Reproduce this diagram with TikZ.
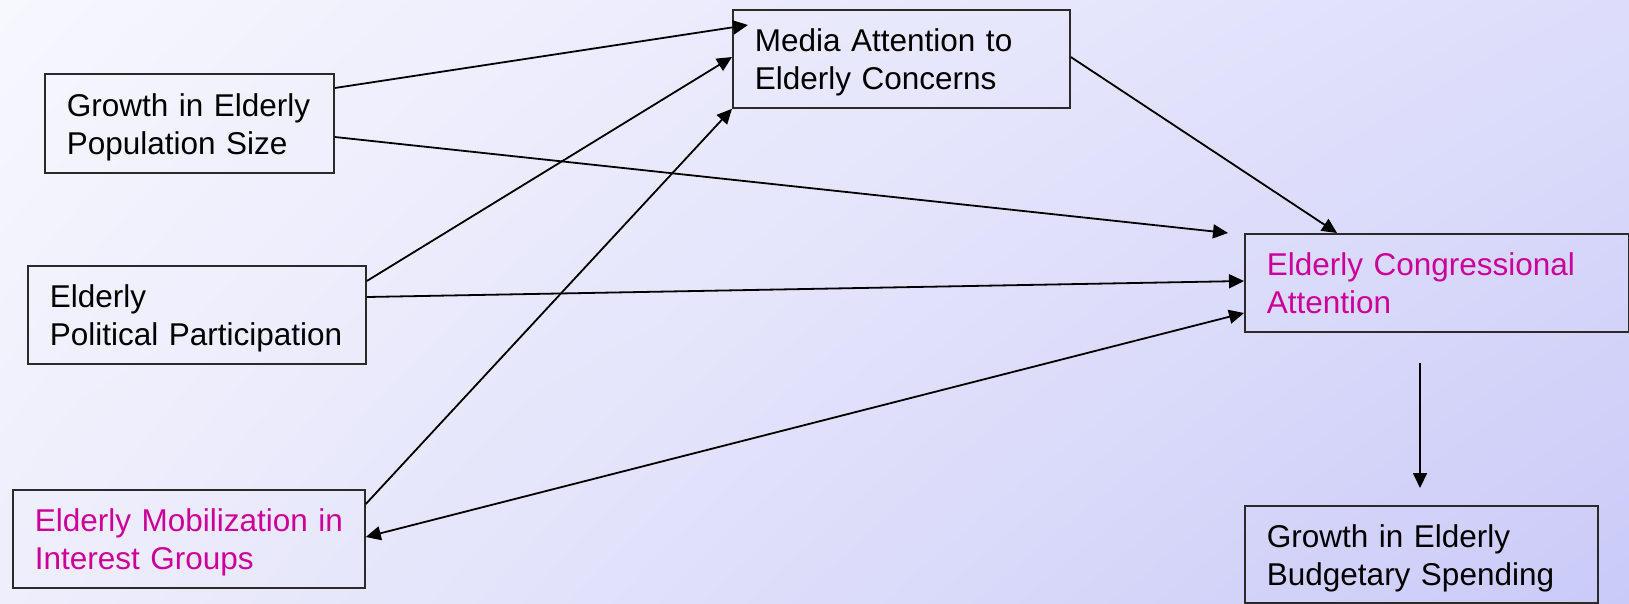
\documentclass[tikz,border=0pt]{standalone}
\usepackage{fontspec}
\setmainfont{Liberation Sans}
\usetikzlibrary{arrows.meta,calc,shadings}
\definecolor{bgUL}{HTML}{F7F7FE}
\definecolor{bgUR}{HTML}{DDDDFB}
\definecolor{bgLL}{HTML}{EEEEFC}
\definecolor{bgLR}{HTML}{CACAF8}
\definecolor{framegray}{HTML}{2A2A2A}
\definecolor{keyterm}{HTML}{CC0099}
\begin{document}
\begin{tikzpicture}[x=1pt,y=-1pt,
  factor/.style={draw=framegray, line width=1.8pt, anchor=north west,
    align=left, inner xsep=22pt, inner ysep=0pt,
    font=\fontsize{31.5}{38}\selectfont,
    text height=24pt, text depth=38pt},
  link/.style={line width=1.8pt, -{Triangle[length=15pt,width=14pt]}},
  duallink/.style={line width=1.8pt, {Triangle[length=15pt,width=14pt]}-{Triangle[length=15pt,width=14pt]}}]
  % background wash
  \shade[upper left=bgUL, upper right=bgUR, lower left=bgLL, lower right=bgLR]
    (0,0) rectangle (1629,603);
  \useasboundingbox (0,0) rectangle (1629,603);

  % factors (lines kept in boxes so they never rewrap)
  \node[factor, minimum width=289pt, minimum height=99pt, text width=245pt]
    (pop) at (44,73) {\mbox{Growth in Elderly}\\\mbox{Population Size}};
  \node[factor, minimum width=337pt, minimum height=98pt, text width=293pt]
    (media) at (732,9) {\mbox{Media Attention to}\\\mbox{Elderly Concerns}};
  \node[factor, minimum width=338pt, minimum height=98pt, text width=294pt]
    (part) at (27,265) {Elderly\\\mbox{Political Participation}};
  \node[factor, minimum width=352pt, minimum height=98pt, text width=308pt,
    text=keyterm] (mob) at (12,489) {\mbox{Elderly Mobilization in}\\\mbox{Interest Groups}};
  \node[factor, minimum width=384pt, minimum height=98pt, text width=340pt,
    text=keyterm] (cong) at (1244,233) {\mbox{Elderly Congressional}\\Attention};
  \node[factor, minimum width=353pt, minimum height=97pt, text width=309pt]
    (budget) at (1244,505) {\mbox{Growth in Elderly}\\\mbox{Budgetary Spending}};

  % free ends of the spending arrow
  \coordinate (spendtop) at ($(cong.south west)+(176,30)$);
  \coordinate (spendend) at ($(budget.north west)+(176,-17)$);

  % influences
  \draw[link] ($(pop.north east)+(0,15)$) -- ($(media.north west)+(16,16)$);
  \draw[link] ($(pop.north east)+(0,64)$) -- ($(cong.north west)+(-16,0)$);
  \draw[link] ($(part.north east)+(0,16)$) -- ($(media.north west)+(0,48)$);
  \draw[link] ($(part.north east)+(0,32)$) -- ($(cong.north west)+(0,48)$);
  \draw[link] ($(mob.north east)+(0,15)$) -- (media.south west);
  \draw[duallink] ($(mob.north east)+(0,48)$) -- ($(cong.north west)+(0,80)$);
  \draw[link] ($(media.north east)+(0,48)$) -- ($(cong.north west)+(93,0)$);
  \draw[link] (spendtop) -- (spendend);
\end{tikzpicture}
\end{document}
